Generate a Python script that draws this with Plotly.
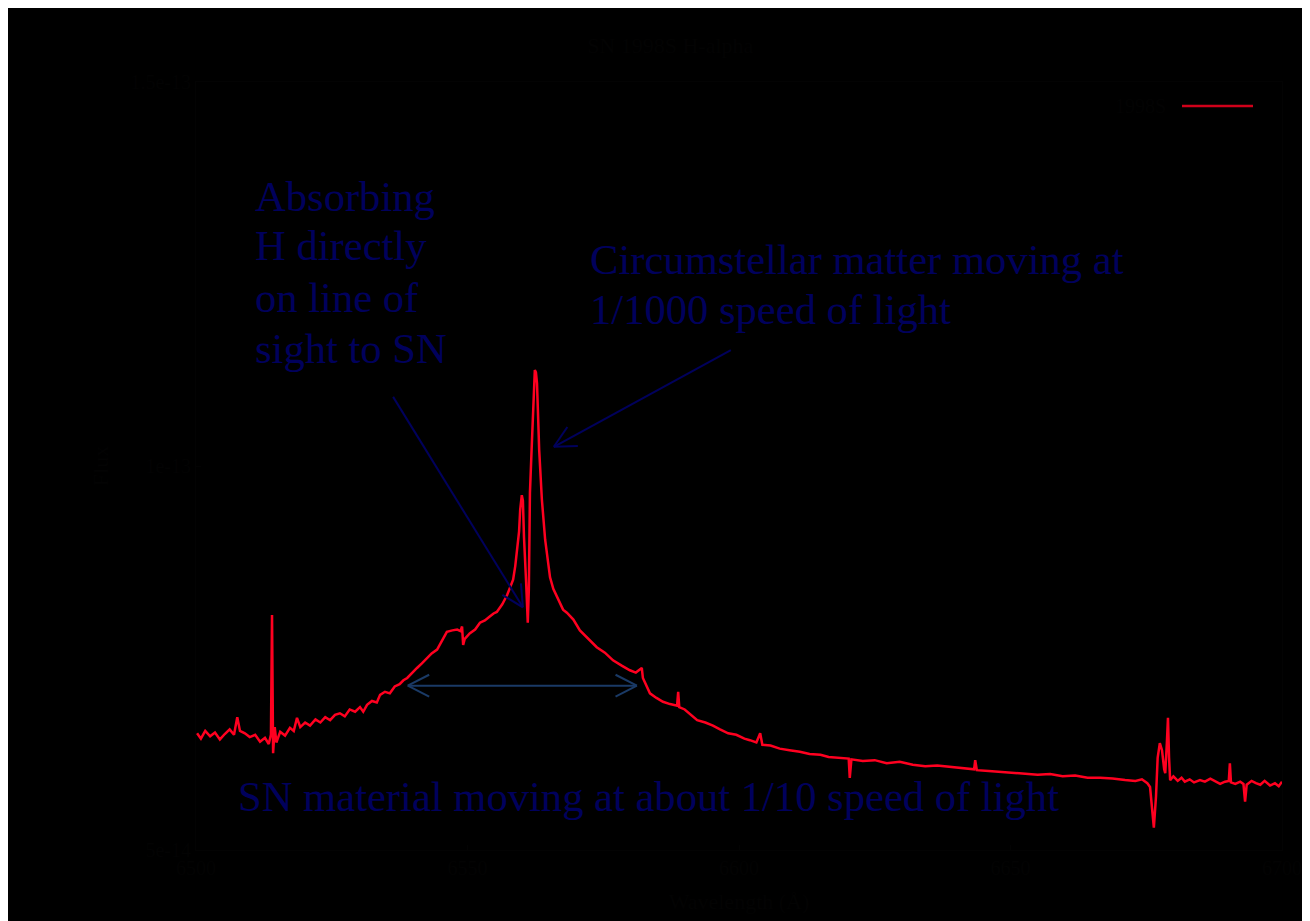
import plotly.graph_objects as go
import numpy as np

# Rest wavelength (Angstrom) and flux (units of 1e-13 erg/s/cm^2/A)
wavelength = [
    6500.2, 6500.9, 6501.7, 6502.6, 6503.5, 6504.4, 6505.3, 6506.2, 6507.0, 6507.6,
    6508.1, 6509.0, 6509.9, 6510.9, 6511.8, 6512.7, 6513.4, 6513.8, 6514.0, 6514.2,
    6514.5, 6514.8, 6515.5, 6516.4, 6517.3, 6518.0, 6518.6, 6519.2, 6520.1, 6521.0,
    6522.0, 6522.9, 6523.8, 6524.7, 6525.6, 6526.5, 6527.4, 6528.3, 6529.3, 6530.2,
    6530.8, 6531.5, 6532.4, 6533.3, 6533.9, 6534.8, 6535.7, 6536.6, 6537.5, 6538.2,
    6538.9, 6539.8, 6540.7, 6541.6, 6542.5, 6543.4, 6544.4, 6545.3, 6546.2, 6547.2,
    6548.1, 6548.7, 6549.0, 6549.2, 6549.5, 6550.4, 6551.4, 6552.3, 6553.2, 6554.1,
    6554.8, 6555.4, 6556.4, 6557.3, 6557.9, 6558.4, 6558.8, 6559.1, 6559.5, 6559.7,
    6560.0, 6560.2, 6560.4, 6560.8, 6561.1, 6561.3, 6561.5, 6561.8, 6562.1, 6562.4,
    6562.6, 6562.8, 6563.2, 6563.7, 6564.3, 6564.8, 6565.2, 6565.8, 6566.5, 6567.6,
    6568.3, 6569.5, 6570.7, 6572.2, 6573.8, 6575.3, 6576.8, 6578.4, 6579.9, 6581.0,
    6582.1, 6582.3, 6583.0, 6583.6, 6584.8, 6586.0, 6587.3, 6588.6, 6588.8, 6589.0,
    6590.0, 6591.2, 6592.3, 6593.8, 6595.2, 6596.5, 6598.0, 6599.5, 6601.0, 6602.0,
    6603.2, 6603.9, 6604.3, 6605.8, 6607.5, 6609.3, 6611.2, 6613.0, 6615.0, 6616.5,
    6618.5, 6620.2, 6620.4, 6620.7, 6622.8, 6625.0, 6627.2, 6629.6, 6632.0, 6634.3,
    6636.5, 6638.9, 6641.2, 6643.3, 6643.5, 6643.8, 6646.0, 6648.1, 6650.5, 6652.7,
    6655.0, 6657.3, 6659.6, 6661.9, 6664.2, 6666.5, 6668.8, 6671.1, 6673.0, 6674.2,
    6675.2, 6675.7, 6676.1, 6676.4, 6676.8, 6677.1, 6677.5, 6677.9, 6678.3, 6678.5,
    6678.8, 6679.0, 6679.2, 6679.4, 6680.0, 6680.8, 6681.5, 6682.1, 6683.0, 6683.8,
    6684.9, 6685.8, 6686.8, 6687.7, 6688.6, 6689.5, 6690.2, 6690.4, 6690.6, 6691.4,
    6692.3, 6692.9, 6693.2, 6693.5, 6694.4, 6695.2, 6696.0, 6696.8, 6697.8, 6698.7,
    6699.4, 6700.0,
]
flux_1e13 = [
    0.652, 0.645, 0.655, 0.648, 0.653, 0.644, 0.651, 0.657, 0.650, 0.673,
    0.655, 0.652, 0.647, 0.650, 0.641, 0.646, 0.638, 0.650, 0.806, 0.626,
    0.660, 0.640, 0.654, 0.649, 0.659, 0.655, 0.672, 0.660, 0.666, 0.662,
    0.670, 0.666, 0.673, 0.669, 0.676, 0.678, 0.674, 0.683, 0.680, 0.686,
    0.680, 0.689, 0.694, 0.692, 0.702, 0.706, 0.704, 0.713, 0.716, 0.721,
    0.724, 0.731, 0.737, 0.743, 0.750, 0.756, 0.761, 0.772, 0.784, 0.786,
    0.787, 0.785, 0.791, 0.767, 0.775, 0.782, 0.787, 0.796, 0.799, 0.804,
    0.808, 0.810, 0.820, 0.832, 0.842, 0.852, 0.870, 0.891, 0.915, 0.943,
    0.962, 0.955, 0.908, 0.848, 0.796, 0.840, 0.965, 1.020, 1.086, 1.125,
    1.122, 1.108, 1.021, 0.956, 0.904, 0.875, 0.855, 0.840, 0.829, 0.813,
    0.809, 0.800, 0.786, 0.775, 0.764, 0.757, 0.747, 0.740, 0.734, 0.731,
    0.737, 0.724, 0.712, 0.704, 0.698, 0.693, 0.690, 0.688, 0.706, 0.686,
    0.683, 0.676, 0.669, 0.666, 0.662, 0.657, 0.652, 0.650, 0.645, 0.643,
    0.640, 0.652, 0.637, 0.636, 0.632, 0.630, 0.628, 0.625, 0.624, 0.621,
    0.620, 0.619, 0.594, 0.618, 0.616, 0.617, 0.613, 0.615, 0.611, 0.609,
    0.610, 0.608, 0.606, 0.605, 0.617, 0.604, 0.603, 0.602, 0.600, 0.599,
    0.598, 0.599, 0.596, 0.597, 0.594, 0.594, 0.593, 0.591, 0.590, 0.592,
    0.587, 0.582, 0.555, 0.529, 0.570, 0.620, 0.639, 0.630, 0.605, 0.600,
    0.640, 0.672, 0.620, 0.591, 0.596, 0.590, 0.594, 0.589, 0.592, 0.588,
    0.591, 0.589, 0.593, 0.590, 0.586, 0.589, 0.590, 0.613, 0.588, 0.586,
    0.589, 0.586, 0.563, 0.585, 0.590, 0.587, 0.585, 0.590, 0.584, 0.587,
    0.583, 0.589,
]

x_ticks = [6500, 6550, 6600, 6650, 6700]
y_ticks = [0.5e-13, 1.0e-13, 1.5e-13]
y_ticktext = ["5e-14", "1e-13", "1.5e-13"]
X_RANGE = [6500, 6700]
Y_RANGE = [0.5e-13, 1.5e-13]

title_text = "SN 1998S H-alpha"
legend_label = "1998S"
x_title = "Wavelength (Å)"
y_title = "Flux"

absorb_lines = ["Absorbing", "H directly", "on line of", "sight to SN"]
csm_lines = ["Circumstellar matter moving at", "1/1000 speed of light"]
sn_text = "SN material moving at about 1/10 speed of light"

# arrows: (tail wavelength, tail flux, tip wavelength, tip flux, double-headed, colour)
arrows = [
    (6536.3, 1.090e-13, 6560.2, 0.816e-13, False, "#00005c"),
    (6598.5, 1.151e-13, 6565.9, 1.025e-13, False, "#00005c"),
    (6539.0, 0.714e-13, 6581.2, 0.714e-13, True, "#1a3a66"),
]

flux = np.array(flux_1e13) * 1e-13

HIDDEN = "#030303"
NAVY = "#00005c"
SERIF = "Liberation Serif, Times New Roman, serif"
FS = 42.6

W, H = 1310, 921
OFF = 8  # page body margin
L, R, T, B = 188, 36, 74, 79
pw, ph = W - L - R, H - T - B


def px(x):
    """screen x (as in the photograph) -> paper fraction"""
    return (x - OFF - L) / pw


def py(y):
    return (H - B - (y - OFF)) / ph


def to_screen(xd, yd):
    sx = OFF + L + (xd - X_RANGE[0]) / (X_RANGE[1] - X_RANGE[0]) * pw
    sy = OFF + T + (Y_RANGE[1] - yd) / (Y_RANGE[1] - Y_RANGE[0]) * ph
    return sx, sy


fig = go.Figure()
fig.add_trace(go.Scatter(x=wavelength, y=flux, mode="lines",
                         line=dict(color="#ff0020", width=2.5),
                         name=legend_label, showlegend=False))

shapes = [
    dict(type="line", xref="paper", yref="paper", x0=px(1182), x1=px(1253),
         y0=py(106), y1=py(106), line=dict(color="#d0001a", width=2.5)),
]

ARM, ANG = 24.0, np.radians(27)


def head(tip, tail, color):
    tx, ty = tip
    bx, by = tail[0] - tx, tail[1] - ty
    n = np.hypot(bx, by)
    bx, by = bx / n, by / n
    out = []
    for s in (1, -1):
        c, si = np.cos(s * ANG), np.sin(s * ANG)
        ax_ = bx * c - by * si
        ay_ = bx * si + by * c
        out.append(dict(type="line", xref="paper", yref="paper",
                        x0=px(tx), y0=py(ty), x1=px(tx + ARM * ax_), y1=py(ty + ARM * ay_),
                        line=dict(color=color, width=2)))
    return out


for x0, y0, x1, y1, double, col in arrows:
    shapes.append(dict(type="line", xref="x", yref="y", x0=x0, y0=y0, x1=x1, y1=y1,
                       line=dict(color=col, width=2)))
    s0, s1 = to_screen(x0, y0), to_screen(x1, y1)
    shapes += head(s1, s0, col)
    if double:
        shapes += head(s0, s1, col)

annotations = [
    dict(text=legend_label, xref="paper", yref="paper", x=px(1168), y=py(106),
         xanchor="right", yanchor="middle", showarrow=False,
         font=dict(family=SERIF, size=20, color=HIDDEN)),
]
for txt, yc in zip(absorb_lines, [196, 246, 297, 348]):
    annotations.append(dict(text=txt, xref="paper", yref="paper", x=px(253), y=py(yc),
                            xanchor="left", yanchor="middle", align="left", showarrow=False,
                            font=dict(family=SERIF, size=FS, color=NAVY)))
for txt, yc in zip(csm_lines, [259, 309]):
    annotations.append(dict(text=txt, xref="paper", yref="paper", x=px(588), y=py(yc),
                            xanchor="left", yanchor="middle", align="left", showarrow=False,
                            font=dict(family=SERIF, size=FS, color=NAVY)))
annotations.append(dict(text=sn_text, xref="paper", yref="paper", x=px(236), y=py(796),
                        xanchor="left", yanchor="middle", align="left", showarrow=False,
                        font=dict(family=SERIF, size=FS, color=NAVY)))

fig.update_layout(
    width=W, height=H,
    margin=dict(l=L, r=R, t=T, b=B, pad=0),
    paper_bgcolor="black", plot_bgcolor="black",
    title=dict(text=title_text, x=px(745), xanchor="center", y=1 - (45 - OFF) / H,
               yanchor="middle", font=dict(family=SERIF, size=22, color=HIDDEN)),
    shapes=shapes, annotations=annotations,
    xaxis=dict(range=X_RANGE, tickvals=x_ticks, showgrid=False, zeroline=False,
               showline=True, linecolor="#030303", mirror=True, ticks="inside",
               tickcolor="#030303", tickfont=dict(family=SERIF, size=20, color=HIDDEN),
               title=dict(text=x_title, font=dict(family=SERIF, size=22, color=HIDDEN))),
    yaxis=dict(range=Y_RANGE, tickvals=y_ticks, ticktext=y_ticktext,
               showgrid=False, zeroline=False, showline=True, linecolor="#030303",
               mirror=True, ticks="inside", tickcolor="#030303",
               tickfont=dict(family=SERIF, size=20, color=HIDDEN),
               title=dict(text=y_title, font=dict(family=SERIF, size=22, color=HIDDEN))),
)

fig.write_html("out.html")
